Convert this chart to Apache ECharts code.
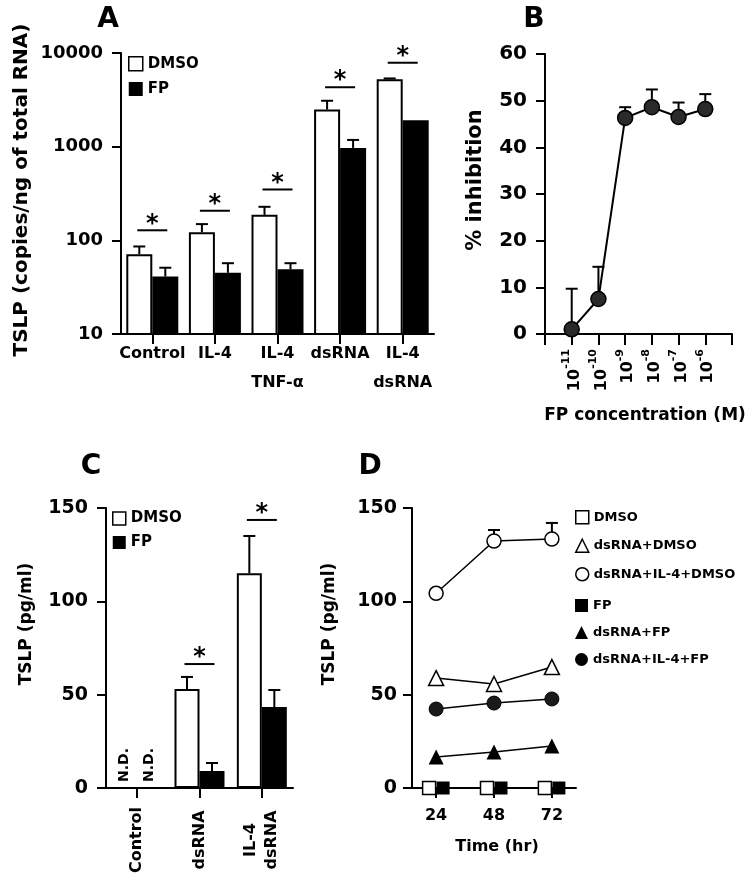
<!DOCTYPE html>
<html><head><meta charset="utf-8">
<script src="https://cdn.jsdelivr.net/npm/echarts@6.0.0/dist/echarts.min.js"></script>
<style>html,body{margin:0;padding:0;background:#fff}#c{width:750px;height:885px}</style>
</head><body><div id="c"></div>
<script>
// ---------- Panel A (log scale, copies/ng of total RNA) ----------
const catsA = ['Control', 'IL-4', 'IL-4\nTNF-α', 'dsRNA', 'IL-4\ndsRNA'];
const aDMSO = [71, 122, 187, 2490, 5230];
const aDMSOErr = [86, 149, 228, 3090, 5350];
const aFP = [41, 45, 49, 970, 1910];
const aFPErr = [51, 57, 57, 1180, null];
const aSig = [128, 207, 349, 4310, 7870];

// ---------- Panel B (% inhibition vs log10 FP concentration) ----------
const bConcExp = [-11, -10, -9, -8, -7, -6];
const bInhib = [1, 7.5, 46.3, 48.6, 46.5, 48.2];
const bErr = [9.7, 14.4, 48.6, 52.4, 49.6, 51.4];

// ---------- Panel C (pg/ml) ----------
const catsC = ['Control', 'dsRNA', 'IL-4\ndsRNA'];
const cDMSO = [null, 53, 115];
const cDMSOErr = [null, 59.5, 135];
const cFP = [null, 9.1, 43.4];
const cFPErr = [null, 13.4, 52.5];
const cSig = [null, 66.4, 143.6];

// ---------- Panel D (pg/ml over time) ----------
const dTimes = [24, 48, 72];
const dDMSO = [0, 0, 0];
const dFP = [0, 0, 0];
const dRnaDMSO = [58.9, 55.7, 64.8];
const dRnaIL4DMSO = [104.3, 132.3, 133.4];
const dRnaIL4DMSOErr = [null, 138.2, 142];
const dRnaFP = [16.6, 19.3, 22.5];
const dRnaIL4FP = [42.3, 45.5, 47.7];

const FONT = '"DejaVu Sans", sans-serif';
function lbl(size) { return { fontFamily: FONT, fontWeight: 'bold', fontSize: size, color: '#000' }; }
const LS = { color: '#000', width: 2 };
function yAx(grid, extra) {
  return Object.assign({
    gridIndex: grid, splitLine: { show: false },
    axisLine: { show: true, onZero: false, lineStyle: LS },
    axisTick: { show: true, length: 9, lineStyle: LS }
  }, extra);
}
function xAx(grid, extra) {
  return Object.assign({
    gridIndex: grid, splitLine: { show: false },
    axisLine: { show: true, onZero: false, lineStyle: LS }
  }, extra);
}
function errBar(dx, cap) {
  return function (params, api) {
    const p0 = api.coord([api.value(0), api.value(1)]);
    const p1 = api.coord([api.value(0), api.value(2)]);
    const x = p0[0] + dx;
    return { type: 'group', children: [
      { type: 'line', shape: { x1: x, y1: p0[1], x2: x, y2: p1[1] }, style: { stroke: '#000', lineWidth: 2 } },
      { type: 'line', shape: { x1: x - cap, y1: p1[1], x2: x + cap, y2: p1[1] }, style: { stroke: '#000', lineWidth: 2 } }
    ] };
  };
}
function sigMark(half) {
  return function (params, api) {
    const p = api.coord([api.value(0), api.value(1)]);
    return { type: 'group', children: [
      { type: 'line', shape: { x1: p[0] - half, y1: p[1], x2: p[0] + half, y2: p[1] }, style: { stroke: '#000', lineWidth: 2 } },
      { type: 'text', x: p[0], y: p[1] - 6, style: { text: '*', font: 'bold 24px ' + FONT, fill: '#000', align: 'center', verticalAlign: 'middle', textAlign: 'center', textVerticalAlign: 'middle' } }
    ] };
  };
}
function ndMark(dx) {
  return function (params, api) {
    const p = api.coord([api.value(0), 0]);
    return { type: 'text', x: p[0] + dx, y: p[1] - 6, rotation: Math.PI / 2,
      style: { text: 'N.D.', font: 'bold 14px ' + FONT, fill: '#000', align: 'left', verticalAlign: 'middle', textAlign: 'left', textVerticalAlign: 'middle' } };
  };
}
function errData(vals, errs, xs) {
  const out = [];
  vals.forEach((v, i) => { if (v != null && errs[i] != null) out.push([xs ? xs[i] : i, v, errs[i]]); });
  return out;
}
function zip(xs, ys) { return xs.map((x, i) => [x, ys[i]]); }
function gtext(x, y, text, size, rot) {
  const el = { type: 'text', x: x, y: y, style: { text: text, font: 'bold ' + size + 'px ' + FONT, fill: '#000',
    align: 'center', verticalAlign: 'middle', textAlign: 'center', textVerticalAlign: 'middle' } };
  if (rot) el.rotation = Math.PI / 2;
  return el;
}
const openStyle = { color: '#fff', borderColor: '#000', borderWidth: 1.5 };
const fillStyle = { color: '#000', borderColor: '#000', borderWidth: 0 };

const option = {
  animation: false,
  backgroundColor: '#fff',
  grid: [
    { left: 121, top: 53, width: 313, height: 281, containLabel: false, outerBoundsMode: 'none' },
    { left: 545, top: 54, width: 187, height: 280, containLabel: false, outerBoundsMode: 'none' },
    { left: 106, top: 508, width: 187, height: 280, containLabel: false, outerBoundsMode: 'none' },
    { left: 412, top: 508, width: 164, height: 280, containLabel: false, outerBoundsMode: 'none' }
  ],
  xAxis: [
    xAx(0, { type: 'category', data: catsA,
      axisTick: { show: true, alignWithLabel: true, interval: 0, length: 10, lineStyle: LS },
      axisLabel: Object.assign(lbl(16), { interval: 0, margin: 5, lineHeight: 29 }) }),
    xAx(1, { type: 'value', min: -12, max: -5, interval: 1,
      axisTick: { show: true, length: 11, lineStyle: LS },
      axisLabel: { rotate: 90, margin: 15, color: '#000',
        formatter: function (v) { return (v >= -11 && v <= -6) ? '{b|10}{s|' + v + '}' : ''; },
        rich: { b: { fontFamily: FONT, fontWeight: 'bold', fontSize: 16, color: '#000', verticalAlign: 'bottom', lineHeight: 22 },
                s: { fontFamily: FONT, fontWeight: 'bold', fontSize: 11, color: '#000', verticalAlign: 'top', lineHeight: 22 } } } }),
    xAx(2, { type: 'category', data: catsC,
      axisTick: { show: true, alignWithLabel: true, interval: 0, length: 10, lineStyle: LS },
      axisLabel: Object.assign(lbl(16), { interval: 0, rotate: 90, align: 'center', verticalAlign: 'middle', margin: 52, lineHeight: 21 }) }),
    xAx(3, { type: 'value', min: 14, max: 82,
      axisTick: { show: true, length: 10, lineStyle: LS, customValues: dTimes },
      axisLabel: Object.assign(lbl(16), { margin: 20, customValues: dTimes }) })
  ],
  yAxis: [
    yAx(0, { type: 'log', logBase: 10, min: 10, max: 10000, minorTick: { show: false },
      axisLabel: Object.assign(lbl(18), { margin: 18, formatter: function (v) { return String(Math.round(v)); } }) }),
    yAx(1, { type: 'value', min: 0, max: 60, interval: 10, axisLabel: Object.assign(lbl(20), { margin: 18 }) }),
    yAx(2, { type: 'value', min: 0, max: 150, interval: 50, axisLabel: Object.assign(lbl(19), { margin: 18 }) }),
    yAx(3, { type: 'value', min: 0, max: 150, interval: 50, axisLabel: Object.assign(lbl(19), { margin: 15 }) })
  ],
  legend: [
    { left: 128, top: 56, padding: 0, orient: 'vertical', itemWidth: 14, itemHeight: 14, itemGap: 10, selectedMode: false,
      textStyle: lbl(15), data: [{ name: 'DMSO', icon: 'rect', itemStyle: openStyle }, { name: 'FP', icon: 'rect', itemStyle: fillStyle }] },
    { left: 112, top: 511, padding: 0, orient: 'vertical', itemWidth: 13, itemHeight: 13, itemGap: 9, selectedMode: false,
      textStyle: lbl(15), data: [{ name: 'DMSO', icon: 'rect', itemStyle: openStyle }, { name: 'FP', icon: 'rect', itemStyle: fillStyle }] },
    { left: 575, top: 510, padding: 0, orient: 'vertical', itemWidth: 13, itemHeight: 13, itemGap: 14, selectedMode: false,
      textStyle: lbl(13), data: [
        { name: 'DMSO', icon: 'rect', itemStyle: openStyle },
        { name: 'dsRNA+DMSO', icon: 'triangle', itemStyle: openStyle },
        { name: 'dsRNA+IL-4+DMSO', icon: 'circle', itemStyle: openStyle }] },
    { left: 575, top: 599, padding: 0, orient: 'vertical', itemWidth: 13, itemHeight: 13, itemGap: 14, selectedMode: false,
      textStyle: lbl(13), data: [
        { name: 'FP', icon: 'rect', itemStyle: fillStyle },
        { name: 'dsRNA+FP', icon: 'triangle', itemStyle: fillStyle },
        { name: 'dsRNA+IL-4+FP', icon: 'circle', itemStyle: fillStyle }] }
  ],
  series: [
    // Panel A
    { type: 'bar', name: 'DMSO', xAxisIndex: 0, yAxisIndex: 0, data: aDMSO, barWidth: 26, barGap: '0%',
      itemStyle: { color: '#fff', borderColor: '#000', borderWidth: 2 } },
    { type: 'bar', name: 'FP', xAxisIndex: 0, yAxisIndex: 0, data: aFP, barWidth: 26, barGap: '0%', itemStyle: fillStyle },
    { type: 'custom', xAxisIndex: 0, yAxisIndex: 0, z: 3, silent: true, encode: { x: 0, y: 1 },
      renderItem: errBar(-13, 6), data: errData(aDMSO, aDMSOErr) },
    { type: 'custom', xAxisIndex: 0, yAxisIndex: 0, z: 3, silent: true, encode: { x: 0, y: 1 },
      renderItem: errBar(13, 6), data: errData(aFP, aFPErr) },
    { type: 'custom', xAxisIndex: 0, yAxisIndex: 0, z: 3, silent: true, encode: { x: 0, y: 1 },
      renderItem: sigMark(15), data: aSig.map((v, i) => [i, v]) },
    // Panel B
    { type: 'custom', xAxisIndex: 1, yAxisIndex: 1, z: 1, silent: true, encode: { x: 0, y: 1 },
      renderItem: errBar(0, 6), data: errData(bInhib, bErr, bConcExp) },
    { type: 'line', name: 'inhibition', xAxisIndex: 1, yAxisIndex: 1, data: zip(bConcExp, bInhib), z: 2,
      symbol: 'circle', symbolSize: 15, clip: false,
      itemStyle: { color: '#2a2a2a', borderColor: '#000', borderWidth: 1.5 }, lineStyle: { color: '#000', width: 2 } },
    // Panel C
    { type: 'bar', name: 'DMSO', xAxisIndex: 2, yAxisIndex: 2, data: cDMSO, barWidth: 25, barGap: '0%',
      itemStyle: { color: '#fff', borderColor: '#000', borderWidth: 2 } },
    { type: 'bar', name: 'FP', xAxisIndex: 2, yAxisIndex: 2, data: cFP, barWidth: 25, barGap: '0%', itemStyle: fillStyle },
    { type: 'custom', xAxisIndex: 2, yAxisIndex: 2, z: 3, silent: true, encode: { x: 0, y: 1 },
      renderItem: errBar(-12.5, 6), data: errData(cDMSO, cDMSOErr) },
    { type: 'custom', xAxisIndex: 2, yAxisIndex: 2, z: 3, silent: true, encode: { x: 0, y: 1 },
      renderItem: errBar(12.5, 6), data: errData(cFP, cFPErr) },
    { type: 'custom', xAxisIndex: 2, yAxisIndex: 2, z: 3, silent: true, encode: { x: 0, y: 1 },
      renderItem: sigMark(15), data: cSig.map((v, i) => [i, v]).filter(d => d[1] != null) },
    { type: 'custom', xAxisIndex: 2, yAxisIndex: 2, z: 3, silent: true, encode: { x: 0, y: 1 },
      renderItem: ndMark(-13), data: cDMSO.map((v, i) => [i, 0, v]).filter(d => d[2] == null).map(d => [d[0], 0]) },
    { type: 'custom', xAxisIndex: 2, yAxisIndex: 2, z: 3, silent: true, encode: { x: 0, y: 1 },
      renderItem: ndMark(12), data: cFP.map((v, i) => [i, 0, v]).filter(d => d[2] == null).map(d => [d[0], 0]) },
    // Panel D
    { type: 'custom', xAxisIndex: 3, yAxisIndex: 3, z: 1, silent: true, encode: { x: 0, y: 1 },
      renderItem: errBar(0, 6), data: errData(dRnaIL4DMSO, dRnaIL4DMSOErr, dTimes) },
    { type: 'line', name: 'dsRNA+IL-4+DMSO', xAxisIndex: 3, yAxisIndex: 3, data: zip(dTimes, dRnaIL4DMSO), clip: false,
      symbol: 'circle', symbolSize: 14, itemStyle: openStyle, lineStyle: { color: '#000', width: 1.5 } },
    { type: 'line', name: 'dsRNA+DMSO', xAxisIndex: 3, yAxisIndex: 3, data: zip(dTimes, dRnaDMSO), clip: false,
      symbol: 'triangle', symbolSize: 15, itemStyle: openStyle, lineStyle: { color: '#000', width: 1.5 } },
    { type: 'line', name: 'dsRNA+IL-4+FP', xAxisIndex: 3, yAxisIndex: 3, data: zip(dTimes, dRnaIL4FP), clip: false,
      symbol: 'circle', symbolSize: 14, itemStyle: { color: '#1a1a1a', borderColor: '#000', borderWidth: 1 }, lineStyle: { color: '#000', width: 1.5 } },
    { type: 'line', name: 'dsRNA+FP', xAxisIndex: 3, yAxisIndex: 3, data: zip(dTimes, dRnaFP), clip: false,
      symbol: 'triangle', symbolSize: 15, itemStyle: fillStyle, lineStyle: { color: '#000', width: 1.5 } },
    { type: 'line', name: 'DMSO', xAxisIndex: 3, yAxisIndex: 3, data: zip(dTimes, dDMSO), clip: false, z: 3,
      symbol: 'rect', symbolSize: 13, symbolOffset: [-7, 0], itemStyle: openStyle, lineStyle: { color: '#000', width: 1.5 } },
    { type: 'line', name: 'FP', xAxisIndex: 3, yAxisIndex: 3, data: zip(dTimes, dFP), clip: false, z: 3,
      symbol: 'rect', symbolSize: 13, symbolOffset: [7, 0], itemStyle: fillStyle, lineStyle: { color: '#000', width: 1.5 } }
  ],
  graphic: [
    gtext(108, 20, 'A', 28), gtext(534, 20, 'B', 28), gtext(91, 467, 'C', 28), gtext(370, 467, 'D', 28),
    gtext(22, 190, 'TSLP (copies/ng of total RNA)', 20, true),
    gtext(476, 180, '% inhibition', 21, true),
    gtext(645, 416, 'FP concentration (M)', 17),
    gtext(27, 624, 'TSLP (pg/ml)', 17, true),
    gtext(330, 624, 'TSLP (pg/ml)', 17, true),
    gtext(497, 847, 'Time (hr)', 16)
  ]
};
const chart = echarts.init(document.getElementById('c'), null, { renderer: 'canvas' });
chart.setOption(option);
</script></body></html>
